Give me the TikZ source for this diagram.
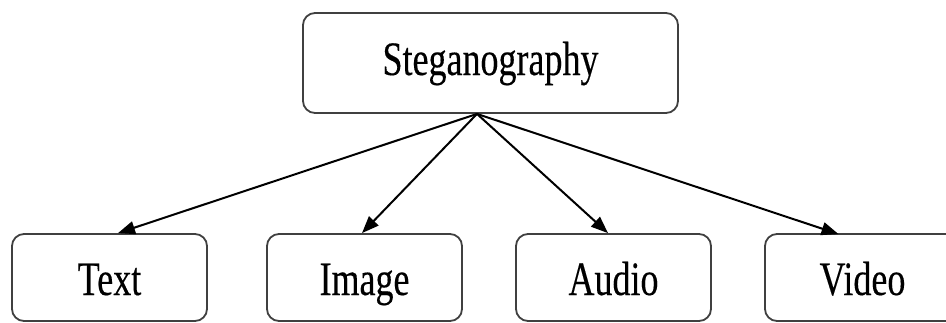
\documentclass[tikz,border=0pt]{standalone}
\usepackage{fontspec}
\setmainfont{Liberation Serif}
\newfontfamily\lblfont{Liberation Serif}[FakeBold=0.3]
\usetikzlibrary{arrows.meta}
\newcommand{\lbltxt}[1]{\scalebox{0.75}[1]{\fontsize{48}{50}\lblfont #1}}
\tikzset{
  box/.style={draw=black!75, line width=1.8pt, rounded corners=12pt, fill=white,
    minimum width=195pt, inner sep=0pt},
  topbox/.style={box, minimum width=375pt, minimum height=100pt, text height=30pt, text depth=6pt},
  botbox/.style={box, minimum height=87pt, text height=35pt, text depth=0pt},
  conn/.style={line width=2pt, -{Triangle[length=17pt, width=13pt]}}
}
\begin{document}
\begin{tikzpicture}[x=1pt, y=-1pt]
\useasboundingbox (0,0) rectangle (946,322);
\clip (0,0) rectangle (946,322);
\node[topbox] (top) at (490.5,63) {\lbltxt{Steganography}};
\node[botbox] (text) at (109.5,277.5) {\lbltxt{Text}};
\node[botbox] (image) at (364.5,277.5) {\lbltxt{Image}};
\node[botbox] (audio) at (613.5,277.5) {\lbltxt{Audio}};
\node[botbox] (video) at (862.5,277.5) {\lbltxt{Video}};
\coordinate (o) at ([xshift=-13.5pt]top.south);
\coordinate (tt) at ([xshift=8.5pt]text.north);
\coordinate (ti) at ([xshift=-2.5pt]image.north);
\coordinate (ta) at ([xshift=-5.5pt]audio.north);
\coordinate (tv) at ([xshift=-24pt,yshift=-1pt]video.north);
\draw[conn] (o) -- (tt);
\draw[conn] (o) -- (ti);
\draw[conn] (o) -- (ta);
\draw[conn] (o) -- (tv);
\end{tikzpicture}
\end{document}
